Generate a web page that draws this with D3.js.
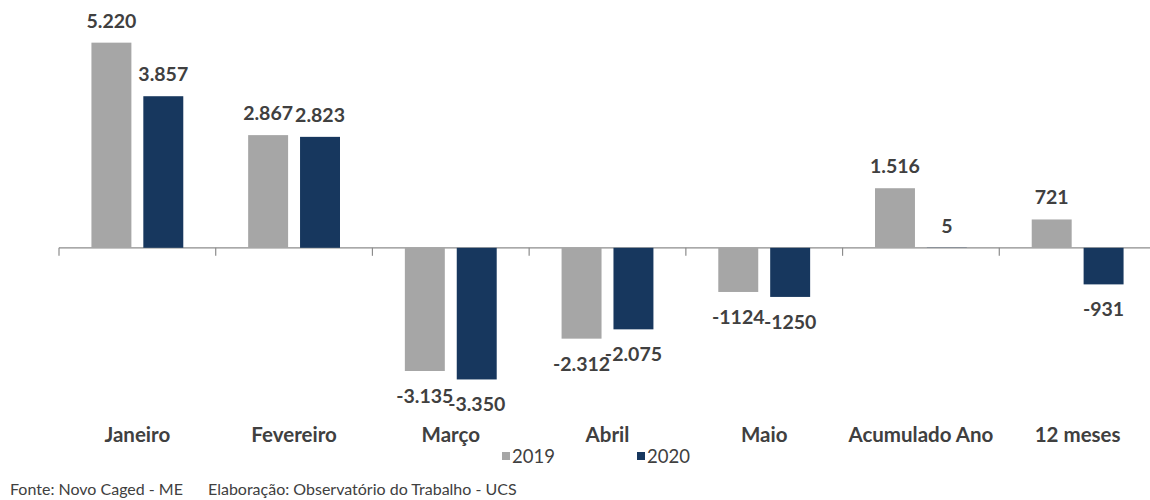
<!DOCTYPE html>
<html>
<head>
<meta charset="utf-8">
<script src="https://cdn.jsdelivr.net/npm/d3@7"></script>
<style>
  body { margin: 0; background: #fff; }
  text { font-family: Lato, "Open Sans", sans-serif; }
</style>
</head>
<body>
<div id="chart"></div>
<script>
const categories = ["Janeiro", "Fevereiro", "Março", "Abril", "Maio", "Acumulado Ano", "12 meses"];
const seriesNames = ["2019", "2020"];
const values2019 = [5220, 2867, -3135, -2312, -1124, 1516, 721];
const values2020 = [3857, 2823, -3350, -2075, -1250, 5, -931];
const labels2019 = ["5.220", "2.867", "-3.135", "-2.312", "-1124", "1.516", "721"];
const labels2020 = ["3.857", "2.823", "-3.350", "-2.075", "-1250", "5", "-931"];
const colors = ["#a6a6a6", "#17375e"];

const WIDTH = 1150;
const HEIGHT = 500;

const svg = d3
  .select("#chart")
  .append("svg")
  .attr("width", WIDTH)
  .attr("height", HEIGHT);

const x = d3.scaleBand().domain(categories).range([59, 1156]).padding(0);
const xSub = d3
  .scaleBand()
  .domain(seriesNames)
  .range([0, x.bandwidth()])
  .paddingInner(0.23)
  .paddingOuter(0.625);
const y = d3.scaleLinear().domain([-4000, 6000]).range([405, 12]);

const rows = categories.map((c, i) => ({
  cat: c,
  bars: [
    { s: seriesNames[0], v: values2019[i], label: labels2019[i], color: colors[0] },
    { s: seriesNames[1], v: values2020[i], label: labels2020[i], color: colors[1] },
  ],
}));

// zero axis line + boundary ticks
const axisG = svg.append("g").attr("transform", `translate(0, ${y(0)})`);
axisG
  .append("line")
  .attr("x1", x.range()[0])
  .attr("x2", WIDTH)
  .attr("stroke", "#8c8c8c")
  .attr("stroke-width", 1.2);
const boundaries = categories.map((c) => x(c)).concat([x.range()[1]]);
axisG
  .selectAll(".tick")
  .data(boundaries)
  .join("line")
  .attr("x1", (d) => d)
  .attr("x2", (d) => d)
  .attr("y1", 0)
  .attr("y2", 8)
  .attr("stroke", "#8c8c8c")
  .attr("stroke-width", 1.2);

const groups = svg
  .selectAll(".cat")
  .data(rows)
  .join("g")
  .attr("transform", (d) => `translate(${x(d.cat)}, 0)`);

groups
  .selectAll("rect")
  .data((d) => d.bars)
  .join("rect")
  .attr("x", (d) => xSub(d.s))
  .attr("width", xSub.bandwidth())
  .attr("y", (d) => Math.min(y(d.v), y(0)))
  .attr("height", (d) => Math.abs(y(d.v) - y(0)))
  .attr("fill", (d) => d.color);

groups
  .selectAll(".val")
  .data((d) => d.bars)
  .join("text")
  .attr("x", (d) => xSub(d.s) + xSub.bandwidth() / 2)
  .attr("y", (d) => (d.v >= 0 ? y(d.v) - 15 : y(d.v) + 32))
  .attr("text-anchor", "middle")
  .attr("font-size", "19.5px")
  .attr("font-weight", "bold")
  .attr("fill", "#404040")
  .text((d) => d.label);

// category labels
svg
  .selectAll(".catlabel")
  .data(categories)
  .join("text")
  .attr("x", (d) => x(d) + x.bandwidth() / 2)
  .attr("y", 442)
  .attr("text-anchor", "middle")
  .attr("font-size", "20.5px")
  .attr("font-weight", "bold")
  .attr("fill", "#404040")
  .text((d) => d);

// legend
const legendX = [502, 637];
const legend = svg
  .selectAll(".legend")
  .data(seriesNames)
  .join("g")
  .attr("transform", (d, i) => `translate(${legendX[i]}, 452)`);
legend
  .append("rect")
  .attr("width", 8)
  .attr("height", 8)
  .attr("fill", (d, i) => colors[i]);
legend
  .append("text")
  .attr("x", 10)
  .attr("y", 11)
  .attr("font-size", "18.5px")
  .attr("fill", "#404040")
  .text((d) => d);

// footer
svg
  .append("text")
  .attr("x", 10)
  .attr("y", 495)
  .attr("font-size", "16px")
  .attr("fill", "#404040")
  .text("Fonte: Novo Caged - ME");
svg
  .append("text")
  .attr("x", 208)
  .attr("y", 495)
  .attr("font-size", "16px")
  .attr("fill", "#404040")
  .text("Elaboração: Observatório do Trabalho - UCS");
</script>
</body>
</html>
